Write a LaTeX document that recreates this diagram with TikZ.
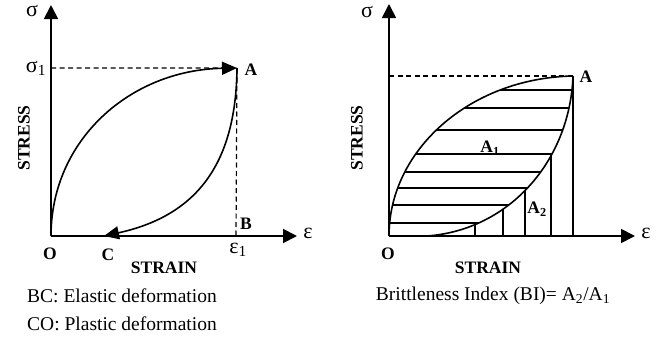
\documentclass[tikz,border=0pt]{standalone}
\usepackage{fontspec}
\setmainfont{Liberation Serif}
\usetikzlibrary{arrows.meta}
\begin{document}
\begin{tikzpicture}[x=1pt,y=-1pt,
  axis/.style={line width=1.8pt,-{Triangle[length=14pt,width=14pt]}},
  curve/.style={line width=1.6pt},
  hatch/.style={line width=1.5pt},
  guide/.style={line width=1.2pt,dash pattern=on 5pt off 3.5pt},
  lbl/.style={font=\fontsize{17.5}{20}\selectfont\bfseries,inner sep=0pt},
  sym/.style={font=\fontsize{22}{24}\selectfont,inner sep=0pt},
  txt/.style={font=\fontsize{19.5}{23}\selectfont,inner sep=0pt},
  arr/.style={-{Triangle[length=15pt,width=13pt]}}]
\useasboundingbox (0,0) rectangle (658,340);
% ---------- left panel ----------
\coordinate (O1) at (51,236);
\coordinate (Y1) at (51,5);
\coordinate (X1) at (297,236);
\coordinate (A1) at (237,68);
\coordinate (C1) at (104,236);
\coordinate (S1) at (51,68);
\coordinate (B1) at (236,236);
\draw[guide] (S1) -- (A1) -- (B1);
\draw[axis] (O1) -- (Y1);
\draw[axis] (O1) -- (X1);
\draw[curve,arr] (O1) .. controls (51,140) and (130,70) .. (A1);
\draw[curve,arr] (A1) .. controls (236,160) and (200,215) .. (C1);
\node[sym] (sig) at (32,11) {σ};
\node[sym] (sig1) at (36,68) {σ\textsubscript{1}};
\node[lbl] (lA) at (251,70) {A};
\node[lbl] (lB) at (246,224) {B};
\node[sym] (eps) at (308,233) {ε};
\node[sym] (eps1) at (238,250) {ε\textsubscript{1}};
\node[lbl] (lO) at (50,254) {O};
\node[lbl] (lC) at (108,255) {C};
\node[lbl] (strain1) at (164,268) {STRAIN};
\node[lbl,rotate=90] (stress1) at (24,138) {STRESS};
\node[txt,anchor=west] (bc) at (27,296) {BC: Elastic deformation};
\node[txt,anchor=west] (co) at (27,324) {CO: Plastic deformation};
% ---------- right panel ----------
\coordinate (O2) at (389,236);
\coordinate (Y2) at (389,4);
\coordinate (X2) at (635,236);
\coordinate (A2) at (573,76);
\coordinate (L2) at (427,236);
\begin{scope}
  \clip (O2) .. controls (389,150) and (470,78) .. (A2)
        .. controls (570,160) and (510,230) .. (L2) -- cycle;
  \foreach \yy in {90,108,130,154,172,188,205,223}
    \draw[hatch] (380,\yy) -- (600,\yy);
\end{scope}
\begin{scope}
  \clip (L2) .. controls (510,230) and (570,160) .. (A2) -- (600,76) -- (600,236) -- cycle;
  \foreach \xx in {475,503,525,551,573}
    \draw[hatch] (\xx,236) -- (\xx,60);
\end{scope}
\draw[guide] (389,76) -- (A2);
\draw[curve] (O2) .. controls (389,150) and (470,78) .. (A2);
\draw[curve] (L2) .. controls (510,230) and (570,160) .. (A2);
\draw[axis] (O2) -- (Y2);
\draw[axis] (O2) -- (X2);
\node[sym] (sig2) at (367,12) {σ};
\node[sym] (eps2) at (646,233) {ε};
\node[lbl] (lO2) at (388,254) {O};
\node[lbl] (lA2) at (586,77) {A};
\node[lbl] (a1) at (490,148) {A\textsubscript{1}};
\node[lbl] (a2) at (537,209) {A\textsubscript{2}};
\node[lbl] (strain2) at (488,268) {STRAIN};
\node[lbl,rotate=90] (stress2) at (357,138) {STRESS};
\node[txt] (bi) at (493,296) {Brittleness Index (BI)= A\textsubscript{2}/A\textsubscript{1}};
\end{tikzpicture}
\end{document}
